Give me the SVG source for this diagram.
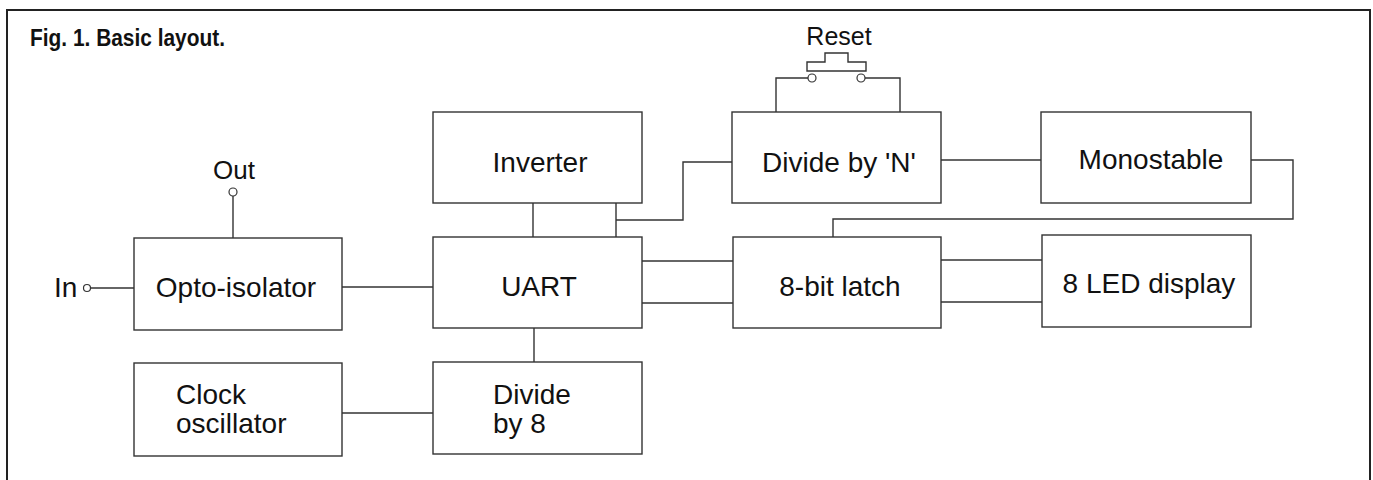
<svg xmlns="http://www.w3.org/2000/svg" width="1373" height="480" viewBox="0 0 1373 480">
<style>
.box{fill:#fff;stroke:#333;stroke-width:1.4}
.w{fill:none;stroke:#333;stroke-width:1.4}
.t{font-family:"Liberation Sans",Arial,sans-serif;font-size:28px;fill:#111}
.c{text-anchor:middle}
.term{fill:#fff;stroke:#333;stroke-width:1.2}
</style>
<rect width="1373" height="480" fill="#fff"/>
<path d="M7,484 V10 H1370 V484" fill="none" stroke="#222" stroke-width="2"/>
<text x="30" y="46" font-family="'Liberation Sans',Arial,sans-serif" font-weight="bold" font-size="24" fill="#111" textLength="195" lengthAdjust="spacingAndGlyphs">Fig. 1. Basic layout.</text>

<g id="connectors">
  <line class="w" x1="91" y1="288" x2="134" y2="288"/>
  <line class="w" x1="233" y1="196" x2="233" y2="238"/>
  <line class="w" x1="342" y1="287" x2="433" y2="287"/>
  <line class="w" x1="342" y1="413" x2="433" y2="413"/>
  <line class="w" x1="534" y1="328" x2="534" y2="362"/>
  <line class="w" x1="533" y1="203" x2="533" y2="237"/>
  <path class="w" d="M616,203 V237 M616,220 H683 V162 H732"/>
  <line class="w" x1="941" y1="160" x2="1041" y2="160"/>
  <path class="w" d="M1251,160 H1293 V219 H833 V237"/>
  <line class="w" x1="642" y1="261" x2="733" y2="261"/>
  <line class="w" x1="642" y1="303" x2="733" y2="303"/>
  <line class="w" x1="941" y1="260" x2="1042" y2="260"/>
  <line class="w" x1="941" y1="302" x2="1042" y2="302"/>
  <path class="w" d="M808,78 H776 V112 M865,78 H900 V112"/>
  <path class="w" d="M807,71 V62 H825 V53 H848 V62 H866 V71 Z"/>
  <circle class="term" cx="87" cy="288" r="3.5"/>
  <circle class="term" cx="233" cy="192" r="4"/>
  <circle class="term" cx="812" cy="78" r="4"/>
  <circle class="term" cx="861" cy="78" r="4"/>
</g>

<g id="in"><text class="t" x="54" y="297" font-size="27">In</text></g>
<g id="out"><text class="t c" x="234" y="179" style="font-size:26px">Out</text></g>
<g id="reset"><text class="t c" x="839" y="45" style="font-size:25px">Reset</text></g>

<g id="opto"><rect class="box" x="134" y="238" width="208" height="92"/><text class="t c" x="236" y="297">Opto-isolator</text></g>
<g id="clock"><rect class="box" x="134" y="363" width="208" height="93"/><text class="t" x="176" y="404">Clock</text><text class="t" x="176" y="433">oscillator</text></g>
<g id="inverter"><rect class="box" x="433" y="112" width="209" height="91"/><text class="t c" x="540" y="172">Inverter</text></g>
<g id="uart"><rect class="box" x="433" y="237" width="209" height="91"/><text class="t c" x="539" y="296">UART</text></g>
<g id="div8"><rect class="box" x="433" y="362" width="209" height="92"/><text class="t" x="493" y="404">Divide</text><text class="t" x="493" y="433">by 8</text></g>
<g id="divN"><rect class="box" x="732" y="112" width="209" height="91"/><text class="t c" x="839" y="172">Divide by 'N'</text></g>
<g id="latch"><rect class="box" x="733" y="237" width="208" height="91"/><text class="t c" x="840" y="296">8-bit latch</text></g>
<g id="mono"><rect class="box" x="1041" y="112" width="210" height="91"/><text class="t c" x="1151" y="169">Monostable</text></g>
<g id="led"><rect class="box" x="1042" y="235" width="209" height="92"/><text class="t c" x="1149" y="293">8 LED display</text></g>
</svg>
